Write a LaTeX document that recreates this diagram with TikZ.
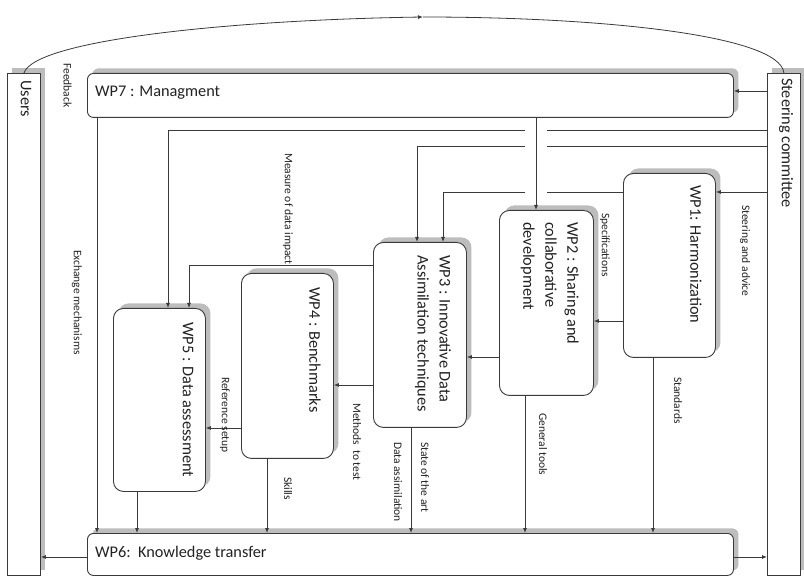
\documentclass[tikz,border=0pt]{standalone}
\usepackage{fontspec}
\setmainfont{Carlito}
\usetikzlibrary{arrows.meta,shadows,calc}
\definecolor{ln}{HTML}{3A3A3A}
\definecolor{sh}{HTML}{BDBDBD}
\definecolor{tx}{HTML}{222222}
\tikzset{
  box/.style={draw=ln, line width=0.9pt, fill=white, inner sep=0pt,
    drop shadow={shadow xshift=5pt, shadow yshift=5pt, fill=sh, opacity=1}},
  wpbox/.style={box, rounded corners=10pt},
  barbox/.style={box, rounded corners=6pt},
  sidebox/.style={box},
  bigtxt/.style={font=\fontsize{16.3}{22}\selectfont, text=tx, inner sep=0pt},
  vtxt/.style={bigtxt, rotate=-90},
  lab/.style={font=\fontsize{11.5}{13}\selectfont, text=tx, rotate=-90, anchor=west, inner sep=0pt},
  conn/.style={draw=ln, line width=0.8pt},
  arr/.style={conn, -{Latex[length=5pt,width=4pt]}},
}
\begin{document}
\begin{tikzpicture}[x=1pt,y=-1pt]
\useasboundingbox (0,0) rectangle (804,577);
\fill[white] (0,0) rectangle (804,577);

% side boxes
\node[sidebox, anchor=north west, minimum width=33pt, minimum height=502pt] (users) at (7,73) {};
\node[sidebox, anchor=north west, minimum width=33pt, minimum height=502pt] (steer) at (767,73) {};
\node[vtxt, anchor=west] (tusers) at (26,80) {Users};
\node[vtxt, anchor=west] (tsteer) at (786,78) {Steering committee};

% bars
\node[barbox, anchor=north west, minimum width=646pt, minimum height=44pt] (wp7) at (87,73) {};
\node[barbox, anchor=north west, minimum width=646pt, minimum height=42pt] (wp6) at (87,533) {};
\node[bigtxt, anchor=base west] (t7) at (95,97) {WP7 : Managment};
\node[bigtxt, anchor=base west] (t6) at (95,557) {WP6:\ \ Knowledge transfer};

% work packages
\node[wpbox, anchor=north west, minimum width=92pt, minimum height=184pt] (wp1) at (623,173) {};
\node[wpbox, anchor=north west, minimum width=94pt, minimum height=185pt] (wp2) at (499,210) {};
\node[wpbox, anchor=north west, minimum width=93pt, minimum height=185pt] (wp3) at (373,242) {};
\node[wpbox, anchor=north west, minimum width=92pt, minimum height=185pt] (wp4) at (241,273) {};
\node[wpbox, anchor=north west, minimum width=92pt, minimum height=183pt] (wp5) at (113,308) {};

\node[vtxt, anchor=west] (t1) at (696,185) {WP1: Harmonization};
\node[vtxt, anchor=north west, align=left] (t2) at (579,222) {WP2 : Sharing and\\collaborative\\development};
\node[vtxt, anchor=north west, align=left] (t3) at (451,255) {WP3 : Innovative Data\\Assimilation techniques};
\node[vtxt, anchor=west] (t4) at (315,287) {WP4 : Benchmarks};
\node[vtxt, anchor=west] (t5) at (188,322) {WP5 : Data assessment};

% feedback arc
\coordinate (apex) at (423,17);
\draw[arr] (users.north) .. controls (35,40) and (230,20) .. (apex);
\draw[conn] (apex) .. controls (600,17) and (780,35) .. (steer.north);

% connectors
\draw[arr] (steer.west |- 0,91) -- (wp7.east |- 0,91);
\draw[arr] (steer.west |- 0,192) -- (wp1.east |- 0,192);
\draw[arr] (wp1.west |- 0,321) -- (wp2.east |- 0,321);
\draw[arr] (wp2.west |- 0,357) -- (wp3.east |- 0,357);
\draw[arr] (wp3.west |- 0,385) -- (wp4.east |- 0,385);
\draw[arr] (wp4.west |- 0,428) -- (wp5.east |- 0,428);

\draw[arr] (wp7.south -| 536,0) -- (wp2.north -| 536,0);
\draw[arr] (wp7.south -| 97,0) -- (wp6.north -| 97,0);
\draw[arr] (wp5.south -| 137,0) -- (wp6.north -| 137,0);
\draw[arr] (wp4.south -| 267,0) -- (wp6.north -| 267,0);
\draw[arr] (wp3.south -| 411,0) -- (wp6.north -| 411,0);
\draw[arr] (wp2.south -| 525,0) -- (wp6.north -| 525,0);
\draw[arr] (wp1.south -| 653,0) -- (wp6.north -| 653,0);

\draw[arr] (wp6.west |- 0,557) -- (users.east |- 0,557);
\draw[arr] (wp6.east |- 0,557) -- (steer.west |- 0,557);

% long lines with hop gaps around x=536
\coordinate (g1r) at (547,130); \coordinate (g1l) at (525,130);
\coordinate (g2r) at (547,146); \coordinate (g2l) at (525,146);
\coordinate (g3r) at (547,192); \coordinate (g3l) at (525,192);
\draw[conn] (steer.west |- g1r) -- (g1r);
\draw[arr] (g1l) -- (168,130) -- (wp5.north -| 168,0);
\draw[conn] (steer.west |- g2r) -- (g2r);
\draw[arr] (g2l) -- (417,146) -- (wp3.north -| 417,0);
\draw[conn] (wp1.west |- g3r) -- (g3r);
\draw[arr] (g3l) -- (443,192) -- (wp3.north -| 443,0);
\draw[arr] (wp3.west |- 0,265) -- (189,265) -- (wp5.north -| 189,0);

% labels
\node[lab] (lfb) at (67.5,63) {Feedback};
\node[lab] (lex) at (77,250) {Exchange mechanisms};
\node[lab] (lmd) at (288,153) {Measure of data impact};
\node[lab] (lsa) at (745,205) {Steering and advice};
\node[lab] (lsp) at (605,213) {Specifications};
\node[lab] (lst) at (678,377) {Standards};
\node[lab] (lgt) at (543,413) {General tools};
\node[lab] (lsoa) at (425,442) {State of the art};
\node[lab] (lda) at (398,442) {Data assimilation};
\node[lab] (lmt) at (357,403) {Methods\ \ to test};
\node[lab] (lrs) at (225,377) {Reference setup};
\node[lab] (lsk) at (288,477) {Skills};
\end{tikzpicture}
\end{document}
